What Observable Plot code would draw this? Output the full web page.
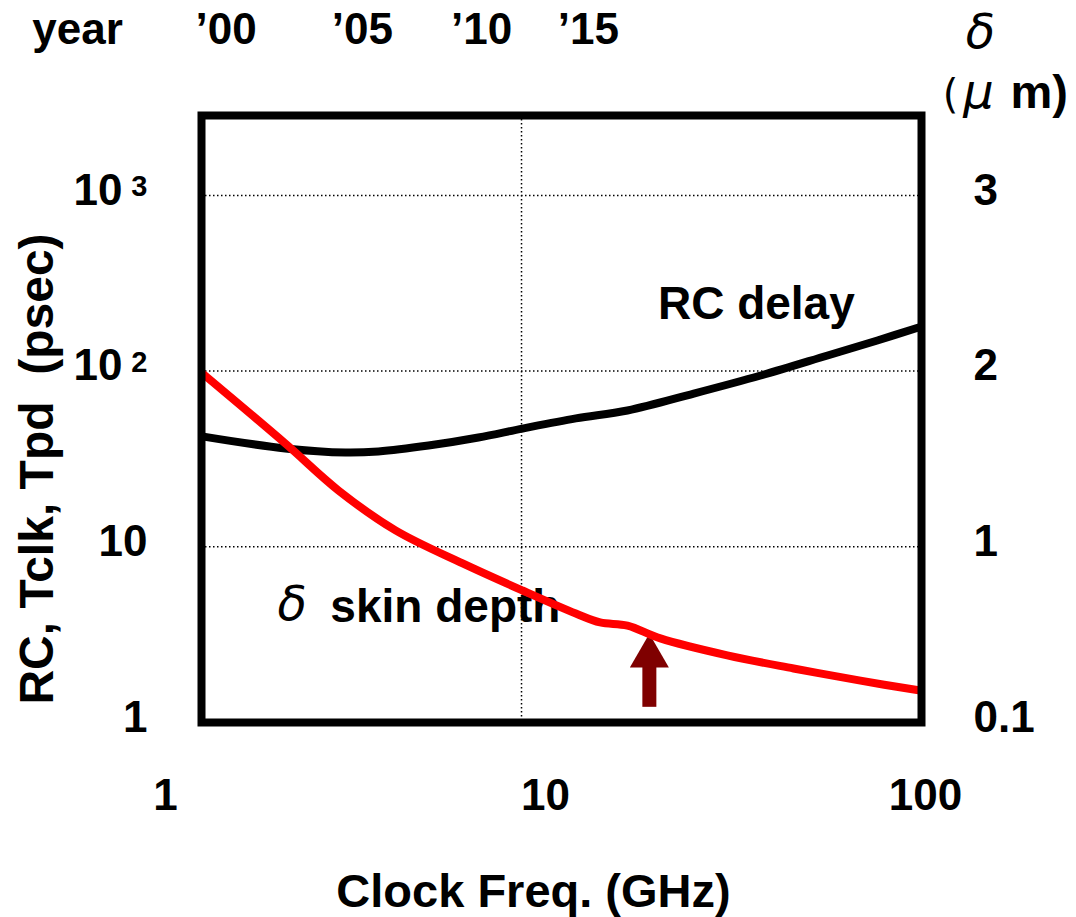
<!DOCTYPE html>
<html>
<head>
<meta charset="utf-8">
<script src="https://cdn.jsdelivr.net/npm/d3@7"></script>
<script src="https://cdn.jsdelivr.net/npm/@observablehq/plot@0.6"></script>
<style>
  html, body { margin: 0; padding: 0; background: #fff; }
  #chart svg { display: block; }
</style>
</head>
<body>
<div id="chart"></div>
<script>
// RC delay (psec) versus clock frequency (GHz)
const rcFreq  = [1.456, 2.39, 3.44, 4.20, 5.69, 7.70, 10.06, 13.9, 19.0, 28.4, 42.6, 63.9, 86.4, 110.9];
const rcDelay = [42.4, 36.3, 34.4, 34.9, 37.7, 41.9, 47.1, 53.8, 59.7, 74.5, 94.4, 122.7, 149.4, 177.1];

// skin depth, plotted against the left (log) scale
const skinFreq  = [1.447, 2.39, 3.30, 4.66, 7.00, 10.06, 13.9, 16.1, 19.0, 23.2, 34.8, 52.0, 78.0, 112];
const skinDepth = [96.9, 38.7, 20.9, 12.4, 8.04, 5.64, 4.17, 3.71, 3.56, 3.01, 2.41, 2.03, 1.73, 1.52];

// axis ticks and their labels
const freqTicks = [1, 10, 100];
const leftTicks = [1, 10, 100, 1000];
const plainTicks = [1, 10];          // written out in full
const powerTicks = [100, 1000];      // written as 10 with an exponent
const powerExponents = ["2", "3"];
const deltaLabels = ["0.1", "1", "2", "3"];
const yearFreq = [1.67, 3.81, 7.85, 15.0];
const yearLabels = ["\u201900", "\u201905", "\u201910", "\u201915"];

// marker arrow under the skin-depth curve
const arrowFreq = 21.7;
const arrowShaft = [1.22, 2.2];
const arrowHead = 2.38;

const rcData = rcFreq.map((f, i) => ({f, v: rcDelay[i]}));
const skinData = skinFreq.map((f, i) => ({f, v: skinDepth[i]}));
const yearData = yearFreq.map((f, i) => ({f, label: yearLabels[i]}));
const expData = powerTicks.map((v, i) => ({v, e: powerExponents[i]}));
const rightMap = new Map(leftTicks.map((t, i) => [t, deltaLabels[i]]));

const SANS = "'Liberation Sans', Arial, Helvetica, sans-serif";
const GREEK = "'DejaVu Sans', sans-serif";
const bold = {fontFamily: SANS, fontWeight: "bold"};
const greek = {fontFamily: GREEK, fontStyle: "italic", fontWeight: "normal"};

const chart = Plot.plot({
  width: 1076,
  height: 917,
  marginLeft: 201,
  marginRight: 155,
  marginTop: 115,
  marginBottom: 195,
  style: {background: "#fff", color: "#000", fontFamily: SANS},
  x: {type: "log", domain: [1.438, 112.9]},
  y: {type: "log", domain: [1, 2850]},
  marks: [
    // dotted grid
    Plot.ruleY([10, 100, 1000], {stroke: "#000", strokeWidth: 1.5, strokeDasharray: "1.5,2.5"}),
    Plot.ruleX([10], {stroke: "#000", strokeWidth: 1.5, strokeDasharray: "1.5,2.5"}),

    // frequency axis (bottom)
    Plot.axisX(freqTicks, {anchor: "bottom", tickSize: 0, tickPadding: 56, dx: 24, fontSize: 44, ...bold,
      label: null, tickFormat: d => String(d)}),
    // year scale (top)
    Plot.text(yearData, {x: "f", text: "label", frameAnchor: "top", dy: -72, lineAnchor: "bottom",
      textAnchor: "middle", fontSize: 44, ...bold}),
    Plot.text(["year"], {frameAnchor: "top-left", dx: -124, dy: -72, lineAnchor: "bottom",
      textAnchor: "middle", fontSize: 44, ...bold}),

    // left (psec) axis: 1, 10, then 10² and 10³
    Plot.axisY(plainTicks, {anchor: "left", tickSize: 0, tickPadding: 54, dy: -5, fontSize: 44, ...bold,
      label: null, tickFormat: d => String(d)}),
    Plot.axisY(powerTicks, {anchor: "left", tickSize: 0, tickPadding: 79, dy: -5, fontSize: 44, ...bold,
      label: null, tickFormat: () => "10"}),
    Plot.text(expData, {y: "v", text: "e", frameAnchor: "left", dx: -54, dy: 1, textAnchor: "end",
      lineAnchor: "bottom", fontSize: 29, ...bold}),
    // right (δ, μm) axis
    Plot.axisY(leftTicks, {anchor: "right", tickSize: 0, tickPadding: 52, dy: -5, fontSize: 44, ...bold,
      label: null, tickFormat: d => rightMap.get(d)}),

    // titles
    Plot.text(["Clock Freq. (GHz)"], {frameAnchor: "bottom", dx: -28, dy: 184, lineAnchor: "bottom",
      textAnchor: "middle", fontSize: 47, ...bold}),
    Plot.text(["RC, Tclk, Tpd\u00a0\u00a0(psec)"], {frameAnchor: "left", dx: -149, dy: 50, rotate: -90,
      lineAnchor: "bottom", textAnchor: "middle", fontSize: 48, ...bold}),
    Plot.text(["\u03b4"], {frameAnchor: "top-right", dx: 59, dy: -68, lineAnchor: "bottom",
      textAnchor: "middle", fontSize: 48, ...greek}),
    Plot.text(["("], {frameAnchor: "top-right", dx: 29, dy: -8, lineAnchor: "bottom",
      textAnchor: "middle", fontSize: 40, fontFamily: GREEK, fontWeight: "normal"}),
    Plot.text(["\u03bc"], {frameAnchor: "top-right", dx: 57, dy: -8, lineAnchor: "bottom",
      textAnchor: "middle", fontSize: 48, ...greek}),
    Plot.text(["m)"], {frameAnchor: "top-right", dx: 89, dy: -8, lineAnchor: "bottom",
      textAnchor: "start", fontSize: 47, ...bold}),

    // curve labels
    Plot.text([{f: 41.5, v: 199}], {x: "f", y: "v", text: () => "RC delay", lineAnchor: "bottom",
      textAnchor: "middle", fontSize: 46, ...bold}),
    Plot.text([{f: 2.49, v: 3.81}], {x: "f", y: "v", text: () => "\u03b4", lineAnchor: "bottom",
      textAnchor: "middle", fontSize: 48, ...greek}),
    Plot.text([{f: 3.14, v: 3.71}], {x: "f", y: "v", text: () => "skin depth", lineAnchor: "bottom",
      textAnchor: "start", fontSize: 46, ...bold}),

    // arrow
    Plot.ruleX([{f: arrowFreq, lo: arrowShaft[0], hi: arrowShaft[1]}], {x: "f", y1: "lo", y2: "hi",
      stroke: "#7f0000", strokeWidth: 14}),
    Plot.dot([{f: arrowFreq, v: arrowHead}], {x: "f", y: "v", symbol: "triangle", r: 14.5,
      fill: "#7f0000", stroke: null}),

    // curves
    Plot.line(rcData, {x: "f", y: "v", stroke: "#000", strokeWidth: 8, curve: "catmull-rom"}),
    Plot.line(skinData, {x: "f", y: "v", stroke: "#ff0000", strokeWidth: 8, curve: "catmull-rom"}),

    Plot.frame({stroke: "#000", strokeWidth: 8})
  ]
});

document.getElementById("chart").append(chart);
</script>
</body>
</html>
